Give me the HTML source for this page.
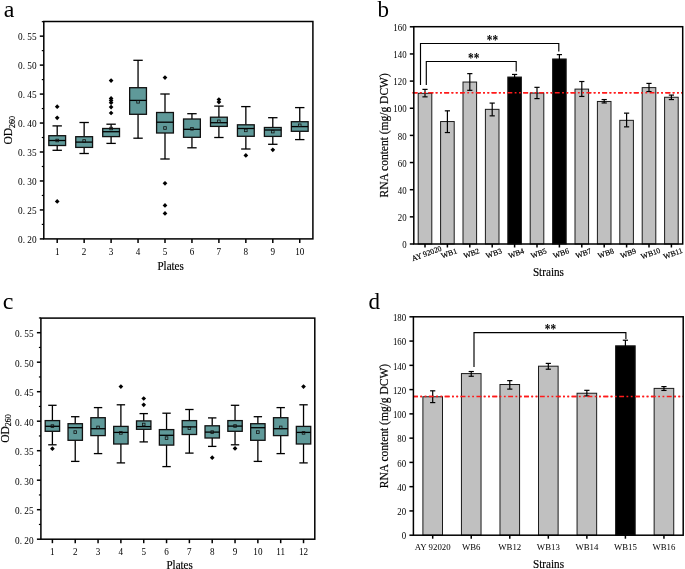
<!DOCTYPE html>
<html><head><meta charset="utf-8"><style>html,body{margin:0;padding:0;background:#fff;}svg{display:block;will-change:transform;}</style></head><body>
<svg width="685" height="569" viewBox="0 0 685 569" font-family='"Liberation Serif", serif' fill="#000">
<style>.b{stroke:#000;stroke-width:0.18px;}</style>
<rect width="685" height="569" fill="#fff"/>
<line x1="57.2" y1="125.9" x2="57.2" y2="135.7" stroke="#000" stroke-width="1.3"/>
<line x1="57.2" y1="145.5" x2="57.2" y2="150.3" stroke="#000" stroke-width="1.3"/>
<line x1="52.5" y1="125.9" x2="61.9" y2="125.9" stroke="#000" stroke-width="1.3"/>
<line x1="52.5" y1="150.3" x2="61.9" y2="150.3" stroke="#000" stroke-width="1.3"/>
<rect x="48.8" y="135.7" width="16.8" height="9.8" fill="#5f9999" stroke="#111" stroke-width="1.3"/>
<line x1="48.8" y1="140.5" x2="65.6" y2="140.5" stroke="#000" stroke-width="1.3"/>
<rect x="55.9" y="139.2" width="2.6" height="2.6" fill="none" stroke="#111" stroke-width="0.8"/>
<path d="M57.2 104.35L59.55 106.7L57.2 109.05L54.85 106.7Z" fill="#000"/>
<path d="M57.2 115.45L59.55 117.8L57.2 120.15L54.85 117.8Z" fill="#000"/>
<path d="M57.2 199.05L59.55 201.4L57.2 203.75L54.85 201.4Z" fill="#000"/>
<line x1="84.15" y1="122.5" x2="84.15" y2="136.7" stroke="#000" stroke-width="1.3"/>
<line x1="84.15" y1="147.4" x2="84.15" y2="153.5" stroke="#000" stroke-width="1.3"/>
<line x1="79.45" y1="122.5" x2="88.85" y2="122.5" stroke="#000" stroke-width="1.3"/>
<line x1="79.45" y1="153.5" x2="88.85" y2="153.5" stroke="#000" stroke-width="1.3"/>
<rect x="75.75" y="136.7" width="16.8" height="10.7" fill="#5f9999" stroke="#111" stroke-width="1.3"/>
<line x1="75.75" y1="142.1" x2="92.55" y2="142.1" stroke="#000" stroke-width="1.3"/>
<rect x="82.85" y="139.7" width="2.6" height="2.6" fill="none" stroke="#111" stroke-width="0.8"/>
<line x1="111.1" y1="124.2" x2="111.1" y2="128.5" stroke="#000" stroke-width="1.3"/>
<line x1="111.1" y1="136.6" x2="111.1" y2="143.4" stroke="#000" stroke-width="1.3"/>
<line x1="106.4" y1="124.2" x2="115.8" y2="124.2" stroke="#000" stroke-width="1.3"/>
<line x1="106.4" y1="143.4" x2="115.8" y2="143.4" stroke="#000" stroke-width="1.3"/>
<rect x="102.7" y="128.5" width="16.8" height="8.1" fill="#5f9999" stroke="#111" stroke-width="1.3"/>
<line x1="102.7" y1="131.7" x2="119.5" y2="131.7" stroke="#000" stroke-width="1.3"/>
<rect x="109.8" y="127.2" width="2.6" height="2.6" fill="none" stroke="#111" stroke-width="0.8"/>
<path d="M111.1 78.25L113.45 80.6L111.1 82.95L108.75 80.6Z" fill="#000"/>
<path d="M111.1 96.05L113.45 98.4L111.1 100.75L108.75 98.4Z" fill="#000"/>
<path d="M111.1 98.15L113.45 100.5L111.1 102.85L108.75 100.5Z" fill="#000"/>
<path d="M111.1 100.35L113.45 102.7L111.1 105.05L108.75 102.7Z" fill="#000"/>
<path d="M111.1 104.75L113.45 107.1L111.1 109.45L108.75 107.1Z" fill="#000"/>
<path d="M111.1 110.65L113.45 113L111.1 115.35L108.75 113Z" fill="#000"/>
<line x1="138.05" y1="60.3" x2="138.05" y2="87.7" stroke="#000" stroke-width="1.3"/>
<line x1="138.05" y1="114.3" x2="138.05" y2="138.2" stroke="#000" stroke-width="1.3"/>
<line x1="133.35" y1="60.3" x2="142.75" y2="60.3" stroke="#000" stroke-width="1.3"/>
<line x1="133.35" y1="138.2" x2="142.75" y2="138.2" stroke="#000" stroke-width="1.3"/>
<rect x="129.65" y="87.7" width="16.8" height="26.6" fill="#5f9999" stroke="#111" stroke-width="1.3"/>
<line x1="129.65" y1="100.4" x2="146.45" y2="100.4" stroke="#000" stroke-width="1.3"/>
<rect x="136.75" y="100.5" width="2.6" height="2.6" fill="none" stroke="#111" stroke-width="0.8"/>
<line x1="165" y1="94" x2="165" y2="112.5" stroke="#000" stroke-width="1.3"/>
<line x1="165" y1="133" x2="165" y2="159" stroke="#000" stroke-width="1.3"/>
<line x1="160.3" y1="94" x2="169.7" y2="94" stroke="#000" stroke-width="1.3"/>
<line x1="160.3" y1="159" x2="169.7" y2="159" stroke="#000" stroke-width="1.3"/>
<rect x="156.6" y="112.5" width="16.8" height="20.5" fill="#5f9999" stroke="#111" stroke-width="1.3"/>
<line x1="156.6" y1="122.2" x2="173.4" y2="122.2" stroke="#000" stroke-width="1.3"/>
<rect x="163.7" y="126.7" width="2.6" height="2.6" fill="none" stroke="#111" stroke-width="0.8"/>
<path d="M165 75.25L167.35 77.6L165 79.95L162.65 77.6Z" fill="#000"/>
<path d="M165 180.95L167.35 183.3L165 185.65L162.65 183.3Z" fill="#000"/>
<path d="M165 203.05L167.35 205.4L165 207.75L162.65 205.4Z" fill="#000"/>
<path d="M165 211.05L167.35 213.4L165 215.75L162.65 213.4Z" fill="#000"/>
<line x1="191.95" y1="113.7" x2="191.95" y2="119" stroke="#000" stroke-width="1.3"/>
<line x1="191.95" y1="137.3" x2="191.95" y2="147.8" stroke="#000" stroke-width="1.3"/>
<line x1="187.25" y1="113.7" x2="196.65" y2="113.7" stroke="#000" stroke-width="1.3"/>
<line x1="187.25" y1="147.8" x2="196.65" y2="147.8" stroke="#000" stroke-width="1.3"/>
<rect x="183.55" y="119" width="16.8" height="18.3" fill="#5f9999" stroke="#111" stroke-width="1.3"/>
<line x1="183.55" y1="129.3" x2="200.35" y2="129.3" stroke="#000" stroke-width="1.3"/>
<rect x="190.65" y="127.5" width="2.6" height="2.6" fill="none" stroke="#111" stroke-width="0.8"/>
<line x1="218.9" y1="106.1" x2="218.9" y2="117.2" stroke="#000" stroke-width="1.3"/>
<line x1="218.9" y1="126.4" x2="218.9" y2="137.5" stroke="#000" stroke-width="1.3"/>
<line x1="214.2" y1="106.1" x2="223.6" y2="106.1" stroke="#000" stroke-width="1.3"/>
<line x1="214.2" y1="137.5" x2="223.6" y2="137.5" stroke="#000" stroke-width="1.3"/>
<rect x="210.5" y="117.2" width="16.8" height="9.2" fill="#5f9999" stroke="#111" stroke-width="1.3"/>
<line x1="210.5" y1="122.7" x2="227.3" y2="122.7" stroke="#000" stroke-width="1.3"/>
<rect x="217.6" y="120" width="2.6" height="2.6" fill="none" stroke="#111" stroke-width="0.8"/>
<path d="M218.9 97.15L221.25 99.5L218.9 101.85L216.55 99.5Z" fill="#000"/>
<path d="M218.9 99.75L221.25 102.1L218.9 104.45L216.55 102.1Z" fill="#000"/>
<line x1="245.85" y1="106.6" x2="245.85" y2="124.8" stroke="#000" stroke-width="1.3"/>
<line x1="245.85" y1="136.3" x2="245.85" y2="149" stroke="#000" stroke-width="1.3"/>
<line x1="241.15" y1="106.6" x2="250.55" y2="106.6" stroke="#000" stroke-width="1.3"/>
<line x1="241.15" y1="149" x2="250.55" y2="149" stroke="#000" stroke-width="1.3"/>
<rect x="237.45" y="124.8" width="16.8" height="11.5" fill="#5f9999" stroke="#111" stroke-width="1.3"/>
<line x1="237.45" y1="128.5" x2="254.25" y2="128.5" stroke="#000" stroke-width="1.3"/>
<rect x="244.55" y="129.1" width="2.6" height="2.6" fill="none" stroke="#111" stroke-width="0.8"/>
<path d="M245.85 153.05L248.2 155.4L245.85 157.75L243.5 155.4Z" fill="#000"/>
<line x1="272.8" y1="117.7" x2="272.8" y2="127.5" stroke="#000" stroke-width="1.3"/>
<line x1="272.8" y1="136.4" x2="272.8" y2="144.3" stroke="#000" stroke-width="1.3"/>
<line x1="268.1" y1="117.7" x2="277.5" y2="117.7" stroke="#000" stroke-width="1.3"/>
<line x1="268.1" y1="144.3" x2="277.5" y2="144.3" stroke="#000" stroke-width="1.3"/>
<rect x="264.4" y="127.5" width="16.8" height="8.9" fill="#5f9999" stroke="#111" stroke-width="1.3"/>
<line x1="264.4" y1="130" x2="281.2" y2="130" stroke="#000" stroke-width="1.3"/>
<rect x="271.5" y="130.3" width="2.6" height="2.6" fill="none" stroke="#111" stroke-width="0.8"/>
<path d="M272.8 147.45L275.15 149.8L272.8 152.15L270.45 149.8Z" fill="#000"/>
<line x1="299.75" y1="107.6" x2="299.75" y2="121.7" stroke="#000" stroke-width="1.3"/>
<line x1="299.75" y1="131.3" x2="299.75" y2="139.6" stroke="#000" stroke-width="1.3"/>
<line x1="295.05" y1="107.6" x2="304.45" y2="107.6" stroke="#000" stroke-width="1.3"/>
<line x1="295.05" y1="139.6" x2="304.45" y2="139.6" stroke="#000" stroke-width="1.3"/>
<rect x="291.35" y="121.7" width="16.8" height="9.6" fill="#5f9999" stroke="#111" stroke-width="1.3"/>
<line x1="291.35" y1="126.6" x2="308.15" y2="126.6" stroke="#000" stroke-width="1.3"/>
<rect x="298.45" y="124" width="2.6" height="2.6" fill="none" stroke="#111" stroke-width="0.8"/>
<rect x="43.8" y="21.5" width="269.1" height="217.4" fill="none" stroke="#000" stroke-width="1.5"/>
<line x1="39.8" y1="238.9" x2="43.8" y2="238.9" stroke="#000" stroke-width="1.5"/>
<text transform="translate(36.6,243.2) scale(0.965,1)" font-size="9.6" text-anchor="end" >0. 20</text>
<line x1="41.8" y1="224.42" x2="43.8" y2="224.42" stroke="#000" stroke-width="1.2"/>
<line x1="39.8" y1="209.94" x2="43.8" y2="209.94" stroke="#000" stroke-width="1.5"/>
<text transform="translate(36.6,214.24) scale(0.965,1)" font-size="9.6" text-anchor="end" >0. 25</text>
<line x1="41.8" y1="195.45" x2="43.8" y2="195.45" stroke="#000" stroke-width="1.2"/>
<line x1="39.8" y1="180.97" x2="43.8" y2="180.97" stroke="#000" stroke-width="1.5"/>
<text transform="translate(36.6,185.27) scale(0.965,1)" font-size="9.6" text-anchor="end" >0. 30</text>
<line x1="41.8" y1="166.49" x2="43.8" y2="166.49" stroke="#000" stroke-width="1.2"/>
<line x1="39.8" y1="152" x2="43.8" y2="152" stroke="#000" stroke-width="1.5"/>
<text transform="translate(36.6,156.31) scale(0.965,1)" font-size="9.6" text-anchor="end" >0. 35</text>
<line x1="41.8" y1="137.52" x2="43.8" y2="137.52" stroke="#000" stroke-width="1.2"/>
<line x1="39.8" y1="123.04" x2="43.8" y2="123.04" stroke="#000" stroke-width="1.5"/>
<text transform="translate(36.6,127.34) scale(0.965,1)" font-size="9.6" text-anchor="end" >0. 40</text>
<line x1="41.8" y1="108.56" x2="43.8" y2="108.56" stroke="#000" stroke-width="1.2"/>
<line x1="39.8" y1="94.08" x2="43.8" y2="94.08" stroke="#000" stroke-width="1.5"/>
<text transform="translate(36.6,98.38) scale(0.965,1)" font-size="9.6" text-anchor="end" >0. 45</text>
<line x1="41.8" y1="79.59" x2="43.8" y2="79.59" stroke="#000" stroke-width="1.2"/>
<line x1="39.8" y1="65.11" x2="43.8" y2="65.11" stroke="#000" stroke-width="1.5"/>
<text transform="translate(36.6,69.41) scale(0.965,1)" font-size="9.6" text-anchor="end" >0. 50</text>
<line x1="41.8" y1="50.63" x2="43.8" y2="50.63" stroke="#000" stroke-width="1.2"/>
<line x1="39.8" y1="36.15" x2="43.8" y2="36.15" stroke="#000" stroke-width="1.5"/>
<text transform="translate(36.6,40.45) scale(0.965,1)" font-size="9.6" text-anchor="end" >0. 55</text>
<line x1="41.8" y1="21.66" x2="43.8" y2="21.66" stroke="#000" stroke-width="1.2"/>
<line x1="57.2" y1="238.9" x2="57.2" y2="242.9" stroke="#000" stroke-width="1.5"/>
<text transform="translate(57.2,254.8) scale(0.95,1)" font-size="9.6" text-anchor="middle" >1</text>
<line x1="84.15" y1="238.9" x2="84.15" y2="242.9" stroke="#000" stroke-width="1.5"/>
<text transform="translate(84.15,254.8) scale(0.95,1)" font-size="9.6" text-anchor="middle" >2</text>
<line x1="111.1" y1="238.9" x2="111.1" y2="242.9" stroke="#000" stroke-width="1.5"/>
<text transform="translate(111.1,254.8) scale(0.95,1)" font-size="9.6" text-anchor="middle" >3</text>
<line x1="138.05" y1="238.9" x2="138.05" y2="242.9" stroke="#000" stroke-width="1.5"/>
<text transform="translate(138.05,254.8) scale(0.95,1)" font-size="9.6" text-anchor="middle" >4</text>
<line x1="165" y1="238.9" x2="165" y2="242.9" stroke="#000" stroke-width="1.5"/>
<text transform="translate(165,254.8) scale(0.95,1)" font-size="9.6" text-anchor="middle" >5</text>
<line x1="191.95" y1="238.9" x2="191.95" y2="242.9" stroke="#000" stroke-width="1.5"/>
<text transform="translate(191.95,254.8) scale(0.95,1)" font-size="9.6" text-anchor="middle" >6</text>
<line x1="218.9" y1="238.9" x2="218.9" y2="242.9" stroke="#000" stroke-width="1.5"/>
<text transform="translate(218.9,254.8) scale(0.95,1)" font-size="9.6" text-anchor="middle" >7</text>
<line x1="245.85" y1="238.9" x2="245.85" y2="242.9" stroke="#000" stroke-width="1.5"/>
<text transform="translate(245.85,254.8) scale(0.95,1)" font-size="9.6" text-anchor="middle" >8</text>
<line x1="272.8" y1="238.9" x2="272.8" y2="242.9" stroke="#000" stroke-width="1.5"/>
<text transform="translate(272.8,254.8) scale(0.95,1)" font-size="9.6" text-anchor="middle" >9</text>
<line x1="299.75" y1="238.9" x2="299.75" y2="242.9" stroke="#000" stroke-width="1.5"/>
<text transform="translate(299.75,254.8) scale(0.95,1)" font-size="9.6" text-anchor="middle" >10</text>
<text transform="translate(170.6,270.2) scale(0.92,1)" font-size="12" text-anchor="middle" class="b">Plates</text>
<text transform="translate(12,130.3) rotate(-90)" font-size="11.5" text-anchor="middle" class="b">OD<tspan font-size="8" dy="2.5">260</tspan></text>
<text x="3.8" y="16.5" font-size="24" text-anchor="start" >a</text>
<line x1="52.4" y1="405.3" x2="52.4" y2="420.6" stroke="#000" stroke-width="1.3"/>
<line x1="52.4" y1="431.3" x2="52.4" y2="444.8" stroke="#000" stroke-width="1.3"/>
<line x1="48.2" y1="405.3" x2="56.6" y2="405.3" stroke="#000" stroke-width="1.3"/>
<line x1="48.2" y1="444.8" x2="56.6" y2="444.8" stroke="#000" stroke-width="1.3"/>
<rect x="45.2" y="420.6" width="14.4" height="10.7" fill="#5f9999" stroke="#111" stroke-width="1.3"/>
<line x1="45.2" y1="426.3" x2="59.6" y2="426.3" stroke="#000" stroke-width="1.3"/>
<rect x="51.1" y="424.8" width="2.6" height="2.6" fill="none" stroke="#111" stroke-width="0.8"/>
<path d="M52.4 446.35L54.75 448.7L52.4 451.05L50.05 448.7Z" fill="#000"/>
<line x1="75.23" y1="416.7" x2="75.23" y2="423.7" stroke="#000" stroke-width="1.3"/>
<line x1="75.23" y1="440.3" x2="75.23" y2="461.4" stroke="#000" stroke-width="1.3"/>
<line x1="71.03" y1="416.7" x2="79.43" y2="416.7" stroke="#000" stroke-width="1.3"/>
<line x1="71.03" y1="461.4" x2="79.43" y2="461.4" stroke="#000" stroke-width="1.3"/>
<rect x="68.03" y="423.7" width="14.4" height="16.6" fill="#5f9999" stroke="#111" stroke-width="1.3"/>
<line x1="68.03" y1="427.7" x2="82.43" y2="427.7" stroke="#000" stroke-width="1.3"/>
<rect x="73.93" y="430.8" width="2.6" height="2.6" fill="none" stroke="#111" stroke-width="0.8"/>
<line x1="98.06" y1="407.6" x2="98.06" y2="417.7" stroke="#000" stroke-width="1.3"/>
<line x1="98.06" y1="435.6" x2="98.06" y2="453.6" stroke="#000" stroke-width="1.3"/>
<line x1="93.86" y1="407.6" x2="102.26" y2="407.6" stroke="#000" stroke-width="1.3"/>
<line x1="93.86" y1="453.6" x2="102.26" y2="453.6" stroke="#000" stroke-width="1.3"/>
<rect x="90.86" y="417.7" width="14.4" height="17.9" fill="#5f9999" stroke="#111" stroke-width="1.3"/>
<line x1="90.86" y1="428.7" x2="105.26" y2="428.7" stroke="#000" stroke-width="1.3"/>
<rect x="96.76" y="426.1" width="2.6" height="2.6" fill="none" stroke="#111" stroke-width="0.8"/>
<line x1="120.89" y1="404.8" x2="120.89" y2="426.4" stroke="#000" stroke-width="1.3"/>
<line x1="120.89" y1="444" x2="120.89" y2="462.9" stroke="#000" stroke-width="1.3"/>
<line x1="116.69" y1="404.8" x2="125.09" y2="404.8" stroke="#000" stroke-width="1.3"/>
<line x1="116.69" y1="462.9" x2="125.09" y2="462.9" stroke="#000" stroke-width="1.3"/>
<rect x="113.69" y="426.4" width="14.4" height="17.6" fill="#5f9999" stroke="#111" stroke-width="1.3"/>
<line x1="113.69" y1="432.4" x2="128.09" y2="432.4" stroke="#000" stroke-width="1.3"/>
<rect x="119.59" y="431.6" width="2.6" height="2.6" fill="none" stroke="#111" stroke-width="0.8"/>
<path d="M120.89 384.25L123.24 386.6L120.89 388.95L118.54 386.6Z" fill="#000"/>
<line x1="143.72" y1="413.6" x2="143.72" y2="420.9" stroke="#000" stroke-width="1.3"/>
<line x1="143.72" y1="429.3" x2="143.72" y2="441.9" stroke="#000" stroke-width="1.3"/>
<line x1="139.52" y1="413.6" x2="147.92" y2="413.6" stroke="#000" stroke-width="1.3"/>
<line x1="139.52" y1="441.9" x2="147.92" y2="441.9" stroke="#000" stroke-width="1.3"/>
<rect x="136.52" y="420.9" width="14.4" height="8.4" fill="#5f9999" stroke="#111" stroke-width="1.3"/>
<line x1="136.52" y1="426.6" x2="150.92" y2="426.6" stroke="#000" stroke-width="1.3"/>
<rect x="142.42" y="423.2" width="2.6" height="2.6" fill="none" stroke="#111" stroke-width="0.8"/>
<path d="M143.72 396.15L146.07 398.5L143.72 400.85L141.37 398.5Z" fill="#000"/>
<path d="M143.72 402.45L146.07 404.8L143.72 407.15L141.37 404.8Z" fill="#000"/>
<line x1="166.55" y1="413.2" x2="166.55" y2="429.6" stroke="#000" stroke-width="1.3"/>
<line x1="166.55" y1="445.1" x2="166.55" y2="466.6" stroke="#000" stroke-width="1.3"/>
<line x1="162.35" y1="413.2" x2="170.75" y2="413.2" stroke="#000" stroke-width="1.3"/>
<line x1="162.35" y1="466.6" x2="170.75" y2="466.6" stroke="#000" stroke-width="1.3"/>
<rect x="159.35" y="429.6" width="14.4" height="15.5" fill="#5f9999" stroke="#111" stroke-width="1.3"/>
<line x1="159.35" y1="435.3" x2="173.75" y2="435.3" stroke="#000" stroke-width="1.3"/>
<rect x="165.25" y="436.8" width="2.6" height="2.6" fill="none" stroke="#111" stroke-width="0.8"/>
<line x1="189.38" y1="409.5" x2="189.38" y2="420.6" stroke="#000" stroke-width="1.3"/>
<line x1="189.38" y1="434.5" x2="189.38" y2="453.1" stroke="#000" stroke-width="1.3"/>
<line x1="185.18" y1="409.5" x2="193.58" y2="409.5" stroke="#000" stroke-width="1.3"/>
<line x1="185.18" y1="453.1" x2="193.58" y2="453.1" stroke="#000" stroke-width="1.3"/>
<rect x="182.18" y="420.6" width="14.4" height="13.9" fill="#5f9999" stroke="#111" stroke-width="1.3"/>
<line x1="182.18" y1="426.9" x2="196.58" y2="426.9" stroke="#000" stroke-width="1.3"/>
<rect x="188.08" y="426.9" width="2.6" height="2.6" fill="none" stroke="#111" stroke-width="0.8"/>
<line x1="212.21" y1="417.9" x2="212.21" y2="425.8" stroke="#000" stroke-width="1.3"/>
<line x1="212.21" y1="438" x2="212.21" y2="446.4" stroke="#000" stroke-width="1.3"/>
<line x1="208.01" y1="417.9" x2="216.41" y2="417.9" stroke="#000" stroke-width="1.3"/>
<line x1="208.01" y1="446.4" x2="216.41" y2="446.4" stroke="#000" stroke-width="1.3"/>
<rect x="205.01" y="425.8" width="14.4" height="12.2" fill="#5f9999" stroke="#111" stroke-width="1.3"/>
<line x1="205.01" y1="432.1" x2="219.41" y2="432.1" stroke="#000" stroke-width="1.3"/>
<rect x="210.91" y="430.8" width="2.6" height="2.6" fill="none" stroke="#111" stroke-width="0.8"/>
<path d="M212.21 455.35L214.56 457.7L212.21 460.05L209.86 457.7Z" fill="#000"/>
<line x1="235.04" y1="405.3" x2="235.04" y2="420.6" stroke="#000" stroke-width="1.3"/>
<line x1="235.04" y1="431.3" x2="235.04" y2="444.8" stroke="#000" stroke-width="1.3"/>
<line x1="230.84" y1="405.3" x2="239.24" y2="405.3" stroke="#000" stroke-width="1.3"/>
<line x1="230.84" y1="444.8" x2="239.24" y2="444.8" stroke="#000" stroke-width="1.3"/>
<rect x="227.84" y="420.6" width="14.4" height="10.7" fill="#5f9999" stroke="#111" stroke-width="1.3"/>
<line x1="227.84" y1="426.1" x2="242.24" y2="426.1" stroke="#000" stroke-width="1.3"/>
<rect x="233.74" y="424.7" width="2.6" height="2.6" fill="none" stroke="#111" stroke-width="0.8"/>
<path d="M235.04 446.05L237.39 448.4L235.04 450.75L232.69 448.4Z" fill="#000"/>
<line x1="257.87" y1="416.7" x2="257.87" y2="423.7" stroke="#000" stroke-width="1.3"/>
<line x1="257.87" y1="440.3" x2="257.87" y2="461.4" stroke="#000" stroke-width="1.3"/>
<line x1="253.67" y1="416.7" x2="262.07" y2="416.7" stroke="#000" stroke-width="1.3"/>
<line x1="253.67" y1="461.4" x2="262.07" y2="461.4" stroke="#000" stroke-width="1.3"/>
<rect x="250.67" y="423.7" width="14.4" height="16.6" fill="#5f9999" stroke="#111" stroke-width="1.3"/>
<line x1="250.67" y1="427.7" x2="265.07" y2="427.7" stroke="#000" stroke-width="1.3"/>
<rect x="256.57" y="430.8" width="2.6" height="2.6" fill="none" stroke="#111" stroke-width="0.8"/>
<line x1="280.7" y1="407.6" x2="280.7" y2="417.7" stroke="#000" stroke-width="1.3"/>
<line x1="280.7" y1="435.6" x2="280.7" y2="453.6" stroke="#000" stroke-width="1.3"/>
<line x1="276.5" y1="407.6" x2="284.9" y2="407.6" stroke="#000" stroke-width="1.3"/>
<line x1="276.5" y1="453.6" x2="284.9" y2="453.6" stroke="#000" stroke-width="1.3"/>
<rect x="273.5" y="417.7" width="14.4" height="17.9" fill="#5f9999" stroke="#111" stroke-width="1.3"/>
<line x1="273.5" y1="428.7" x2="287.9" y2="428.7" stroke="#000" stroke-width="1.3"/>
<rect x="279.4" y="426.1" width="2.6" height="2.6" fill="none" stroke="#111" stroke-width="0.8"/>
<line x1="303.53" y1="404.8" x2="303.53" y2="426.4" stroke="#000" stroke-width="1.3"/>
<line x1="303.53" y1="444" x2="303.53" y2="462.9" stroke="#000" stroke-width="1.3"/>
<line x1="299.33" y1="404.8" x2="307.73" y2="404.8" stroke="#000" stroke-width="1.3"/>
<line x1="299.33" y1="462.9" x2="307.73" y2="462.9" stroke="#000" stroke-width="1.3"/>
<rect x="296.33" y="426.4" width="14.4" height="17.6" fill="#5f9999" stroke="#111" stroke-width="1.3"/>
<line x1="296.33" y1="432.4" x2="310.73" y2="432.4" stroke="#000" stroke-width="1.3"/>
<rect x="302.23" y="431.6" width="2.6" height="2.6" fill="none" stroke="#111" stroke-width="0.8"/>
<path d="M303.53 384.25L305.88 386.6L303.53 388.95L301.18 386.6Z" fill="#000"/>
<rect x="40.9" y="318.1" width="273.9" height="221.1" fill="none" stroke="#000" stroke-width="1.5"/>
<line x1="36.9" y1="539.2" x2="40.9" y2="539.2" stroke="#000" stroke-width="1.5"/>
<text transform="translate(33.6,543.5) scale(0.965,1)" font-size="9.6" text-anchor="end" >0. 20</text>
<line x1="38.9" y1="524.45" x2="40.9" y2="524.45" stroke="#000" stroke-width="1.2"/>
<line x1="36.9" y1="509.7" x2="40.9" y2="509.7" stroke="#000" stroke-width="1.5"/>
<text transform="translate(33.6,514) scale(0.965,1)" font-size="9.6" text-anchor="end" >0. 25</text>
<line x1="38.9" y1="494.95" x2="40.9" y2="494.95" stroke="#000" stroke-width="1.2"/>
<line x1="36.9" y1="480.2" x2="40.9" y2="480.2" stroke="#000" stroke-width="1.5"/>
<text transform="translate(33.6,484.5) scale(0.965,1)" font-size="9.6" text-anchor="end" >0. 30</text>
<line x1="38.9" y1="465.45" x2="40.9" y2="465.45" stroke="#000" stroke-width="1.2"/>
<line x1="36.9" y1="450.7" x2="40.9" y2="450.7" stroke="#000" stroke-width="1.5"/>
<text transform="translate(33.6,455) scale(0.965,1)" font-size="9.6" text-anchor="end" >0. 35</text>
<line x1="38.9" y1="435.95" x2="40.9" y2="435.95" stroke="#000" stroke-width="1.2"/>
<line x1="36.9" y1="421.2" x2="40.9" y2="421.2" stroke="#000" stroke-width="1.5"/>
<text transform="translate(33.6,425.5) scale(0.965,1)" font-size="9.6" text-anchor="end" >0. 40</text>
<line x1="38.9" y1="406.45" x2="40.9" y2="406.45" stroke="#000" stroke-width="1.2"/>
<line x1="36.9" y1="391.7" x2="40.9" y2="391.7" stroke="#000" stroke-width="1.5"/>
<text transform="translate(33.6,396) scale(0.965,1)" font-size="9.6" text-anchor="end" >0. 45</text>
<line x1="38.9" y1="376.95" x2="40.9" y2="376.95" stroke="#000" stroke-width="1.2"/>
<line x1="36.9" y1="362.2" x2="40.9" y2="362.2" stroke="#000" stroke-width="1.5"/>
<text transform="translate(33.6,366.5) scale(0.965,1)" font-size="9.6" text-anchor="end" >0. 50</text>
<line x1="38.9" y1="347.45" x2="40.9" y2="347.45" stroke="#000" stroke-width="1.2"/>
<line x1="36.9" y1="332.7" x2="40.9" y2="332.7" stroke="#000" stroke-width="1.5"/>
<text transform="translate(33.6,337) scale(0.965,1)" font-size="9.6" text-anchor="end" >0. 55</text>
<line x1="38.9" y1="317.95" x2="40.9" y2="317.95" stroke="#000" stroke-width="1.2"/>
<line x1="52.4" y1="539.2" x2="52.4" y2="543.2" stroke="#000" stroke-width="1.5"/>
<text transform="translate(52.4,555) scale(0.95,1)" font-size="9.6" text-anchor="middle" >1</text>
<line x1="75.23" y1="539.2" x2="75.23" y2="543.2" stroke="#000" stroke-width="1.5"/>
<text transform="translate(75.23,555) scale(0.95,1)" font-size="9.6" text-anchor="middle" >2</text>
<line x1="98.06" y1="539.2" x2="98.06" y2="543.2" stroke="#000" stroke-width="1.5"/>
<text transform="translate(98.06,555) scale(0.95,1)" font-size="9.6" text-anchor="middle" >3</text>
<line x1="120.89" y1="539.2" x2="120.89" y2="543.2" stroke="#000" stroke-width="1.5"/>
<text transform="translate(120.89,555) scale(0.95,1)" font-size="9.6" text-anchor="middle" >4</text>
<line x1="143.72" y1="539.2" x2="143.72" y2="543.2" stroke="#000" stroke-width="1.5"/>
<text transform="translate(143.72,555) scale(0.95,1)" font-size="9.6" text-anchor="middle" >5</text>
<line x1="166.55" y1="539.2" x2="166.55" y2="543.2" stroke="#000" stroke-width="1.5"/>
<text transform="translate(166.55,555) scale(0.95,1)" font-size="9.6" text-anchor="middle" >6</text>
<line x1="189.38" y1="539.2" x2="189.38" y2="543.2" stroke="#000" stroke-width="1.5"/>
<text transform="translate(189.38,555) scale(0.95,1)" font-size="9.6" text-anchor="middle" >7</text>
<line x1="212.21" y1="539.2" x2="212.21" y2="543.2" stroke="#000" stroke-width="1.5"/>
<text transform="translate(212.21,555) scale(0.95,1)" font-size="9.6" text-anchor="middle" >8</text>
<line x1="235.04" y1="539.2" x2="235.04" y2="543.2" stroke="#000" stroke-width="1.5"/>
<text transform="translate(235.04,555) scale(0.95,1)" font-size="9.6" text-anchor="middle" >9</text>
<line x1="257.87" y1="539.2" x2="257.87" y2="543.2" stroke="#000" stroke-width="1.5"/>
<text transform="translate(257.87,555) scale(0.95,1)" font-size="9.6" text-anchor="middle" >10</text>
<line x1="280.7" y1="539.2" x2="280.7" y2="543.2" stroke="#000" stroke-width="1.5"/>
<text transform="translate(280.7,555) scale(0.95,1)" font-size="9.6" text-anchor="middle" >11</text>
<line x1="303.53" y1="539.2" x2="303.53" y2="543.2" stroke="#000" stroke-width="1.5"/>
<text transform="translate(303.53,555) scale(0.95,1)" font-size="9.6" text-anchor="middle" >12</text>
<text transform="translate(179.6,569.3) scale(0.92,1)" font-size="12" text-anchor="middle" class="b">Plates</text>
<text transform="translate(8.5,428.5) rotate(-90)" font-size="11.5" text-anchor="middle" class="b">OD<tspan font-size="8" dy="2.5">260</tspan></text>
<text x="2.8" y="308.6" font-size="24" text-anchor="start" >c</text>
<line x1="412.6" y1="92.8" x2="682.7" y2="92.8" stroke="#ff1a1a" stroke-width="1.5" stroke-dasharray="4.9 2.4 1.8 2.5 1.8 2.4"/>
<rect x="418.2" y="93.32" width="13.6" height="150.68" fill="#c0c0c0" stroke="#1a1a1a" stroke-width="1"/>
<line x1="425" y1="89.38" x2="425" y2="96.85" stroke="#000" stroke-width="1.2"/>
<line x1="422.4" y1="89.38" x2="427.6" y2="89.38" stroke="#000" stroke-width="1.2"/>
<line x1="422.4" y1="96.85" x2="427.6" y2="96.85" stroke="#000" stroke-width="1.2"/>
<rect x="440.6" y="121.55" width="13.6" height="122.45" fill="#c0c0c0" stroke="#1a1a1a" stroke-width="1"/>
<line x1="447.4" y1="110.83" x2="447.4" y2="132.55" stroke="#000" stroke-width="1.2"/>
<line x1="444.8" y1="110.83" x2="450" y2="110.83" stroke="#000" stroke-width="1.2"/>
<line x1="444.8" y1="132.55" x2="450" y2="132.55" stroke="#000" stroke-width="1.2"/>
<rect x="463" y="82.05" width="13.6" height="161.95" fill="#c0c0c0" stroke="#1a1a1a" stroke-width="1"/>
<line x1="469.8" y1="73.63" x2="469.8" y2="90.33" stroke="#000" stroke-width="1.2"/>
<line x1="467.2" y1="73.63" x2="472.4" y2="73.63" stroke="#000" stroke-width="1.2"/>
<line x1="467.2" y1="90.33" x2="472.4" y2="90.33" stroke="#000" stroke-width="1.2"/>
<rect x="485.4" y="109.34" width="13.6" height="134.66" fill="#c0c0c0" stroke="#1a1a1a" stroke-width="1"/>
<line x1="492.2" y1="103.09" x2="492.2" y2="115.85" stroke="#000" stroke-width="1.2"/>
<line x1="489.6" y1="103.09" x2="494.8" y2="103.09" stroke="#000" stroke-width="1.2"/>
<line x1="489.6" y1="115.85" x2="494.8" y2="115.85" stroke="#000" stroke-width="1.2"/>
<rect x="507.8" y="77.03" width="13.6" height="166.97" fill="#000" stroke="#1a1a1a" stroke-width="1"/>
<line x1="514.6" y1="74.45" x2="514.6" y2="79.06" stroke="#000" stroke-width="1.2"/>
<line x1="512" y1="74.45" x2="517.2" y2="74.45" stroke="#000" stroke-width="1.2"/>
<line x1="512" y1="79.06" x2="517.2" y2="79.06" stroke="#000" stroke-width="1.2"/>
<rect x="530.2" y="93.05" width="13.6" height="150.95" fill="#c0c0c0" stroke="#1a1a1a" stroke-width="1"/>
<line x1="537" y1="87.34" x2="537" y2="98.61" stroke="#000" stroke-width="1.2"/>
<line x1="534.4" y1="87.34" x2="539.6" y2="87.34" stroke="#000" stroke-width="1.2"/>
<line x1="534.4" y1="98.61" x2="539.6" y2="98.61" stroke="#000" stroke-width="1.2"/>
<rect x="552.6" y="58.97" width="13.6" height="185.03" fill="#000" stroke="#1a1a1a" stroke-width="1"/>
<line x1="559.4" y1="54.63" x2="559.4" y2="63.45" stroke="#000" stroke-width="1.2"/>
<line x1="556.8" y1="54.63" x2="562" y2="54.63" stroke="#000" stroke-width="1.2"/>
<line x1="556.8" y1="63.45" x2="562" y2="63.45" stroke="#000" stroke-width="1.2"/>
<rect x="575" y="89.11" width="13.6" height="154.89" fill="#c0c0c0" stroke="#1a1a1a" stroke-width="1"/>
<line x1="581.8" y1="81.51" x2="581.8" y2="96.44" stroke="#000" stroke-width="1.2"/>
<line x1="579.2" y1="81.51" x2="584.4" y2="81.51" stroke="#000" stroke-width="1.2"/>
<line x1="579.2" y1="96.44" x2="584.4" y2="96.44" stroke="#000" stroke-width="1.2"/>
<rect x="597.4" y="101.46" width="13.6" height="142.54" fill="#c0c0c0" stroke="#1a1a1a" stroke-width="1"/>
<line x1="604.2" y1="99.56" x2="604.2" y2="102.96" stroke="#000" stroke-width="1.2"/>
<line x1="601.6" y1="99.56" x2="606.8" y2="99.56" stroke="#000" stroke-width="1.2"/>
<line x1="601.6" y1="102.96" x2="606.8" y2="102.96" stroke="#000" stroke-width="1.2"/>
<rect x="619.8" y="120.33" width="13.6" height="123.67" fill="#c0c0c0" stroke="#1a1a1a" stroke-width="1"/>
<line x1="626.6" y1="113.14" x2="626.6" y2="126.85" stroke="#000" stroke-width="1.2"/>
<line x1="624" y1="113.14" x2="629.2" y2="113.14" stroke="#000" stroke-width="1.2"/>
<line x1="624" y1="126.85" x2="629.2" y2="126.85" stroke="#000" stroke-width="1.2"/>
<rect x="642.2" y="87.62" width="13.6" height="156.38" fill="#c0c0c0" stroke="#1a1a1a" stroke-width="1"/>
<line x1="649" y1="83.41" x2="649" y2="91.55" stroke="#000" stroke-width="1.2"/>
<line x1="646.4" y1="83.41" x2="651.6" y2="83.41" stroke="#000" stroke-width="1.2"/>
<line x1="646.4" y1="91.55" x2="651.6" y2="91.55" stroke="#000" stroke-width="1.2"/>
<rect x="664.6" y="97.25" width="13.6" height="146.75" fill="#c0c0c0" stroke="#1a1a1a" stroke-width="1"/>
<line x1="671.4" y1="95.08" x2="671.4" y2="99.56" stroke="#000" stroke-width="1.2"/>
<line x1="668.8" y1="95.08" x2="674" y2="95.08" stroke="#000" stroke-width="1.2"/>
<line x1="668.8" y1="99.56" x2="674" y2="99.56" stroke="#000" stroke-width="1.2"/>
<line x1="412.6" y1="92.8" x2="682.7" y2="92.8" stroke="#ff1a1a" stroke-width="1.5" stroke-dasharray="4.9 2.4 1.8 2.5 1.8 2.4"/>
<path d="M420.5 85V43.5H558.8V51.6" fill="none" stroke="#000" stroke-width="1.15"/>
<text transform="translate(492.5,44.8) scale(0.9,1.2)" font-size="12.6" text-anchor="middle" font-weight="bold">**</text>
<path d="M426.3 85V61.5H516.2V71.4" fill="none" stroke="#000" stroke-width="1.15"/>
<text transform="translate(473.7,62.6) scale(0.9,1.2)" font-size="12.6" text-anchor="middle" font-weight="bold">**</text>
<rect x="413.8" y="26.7" width="268.9" height="217.3" fill="none" stroke="#000" stroke-width="1.5"/>
<line x1="409.8" y1="244" x2="413.8" y2="244" stroke="#000" stroke-width="1.5"/>
<text transform="translate(406.6,248.2) scale(0.92,1)" font-size="9.6" text-anchor="end" >0</text>
<line x1="409.8" y1="216.85" x2="413.8" y2="216.85" stroke="#000" stroke-width="1.5"/>
<text transform="translate(406.6,221.05) scale(0.92,1)" font-size="9.6" text-anchor="end" >20</text>
<line x1="409.8" y1="189.7" x2="413.8" y2="189.7" stroke="#000" stroke-width="1.5"/>
<text transform="translate(406.6,193.9) scale(0.92,1)" font-size="9.6" text-anchor="end" >40</text>
<line x1="409.8" y1="162.55" x2="413.8" y2="162.55" stroke="#000" stroke-width="1.5"/>
<text transform="translate(406.6,166.75) scale(0.92,1)" font-size="9.6" text-anchor="end" >60</text>
<line x1="409.8" y1="135.4" x2="413.8" y2="135.4" stroke="#000" stroke-width="1.5"/>
<text transform="translate(406.6,139.6) scale(0.92,1)" font-size="9.6" text-anchor="end" >80</text>
<line x1="409.8" y1="108.25" x2="413.8" y2="108.25" stroke="#000" stroke-width="1.5"/>
<text transform="translate(406.6,112.45) scale(0.92,1)" font-size="9.6" text-anchor="end" >100</text>
<line x1="409.8" y1="81.1" x2="413.8" y2="81.1" stroke="#000" stroke-width="1.5"/>
<text transform="translate(406.6,85.3) scale(0.92,1)" font-size="9.6" text-anchor="end" >120</text>
<line x1="409.8" y1="53.95" x2="413.8" y2="53.95" stroke="#000" stroke-width="1.5"/>
<text transform="translate(406.6,58.15) scale(0.92,1)" font-size="9.6" text-anchor="end" >140</text>
<line x1="409.8" y1="26.8" x2="413.8" y2="26.8" stroke="#000" stroke-width="1.5"/>
<text transform="translate(406.6,31) scale(0.92,1)" font-size="9.6" text-anchor="end" >160</text>
<line x1="425" y1="244" x2="425" y2="247.5" stroke="#000" stroke-width="1.5"/>
<text transform="translate(427.5,255.8) rotate(-20)" font-size="7.7" text-anchor="middle" class="b">AY 92020</text>
<line x1="447.4" y1="244" x2="447.4" y2="247.5" stroke="#000" stroke-width="1.5"/>
<text transform="translate(449.9,255.8) rotate(-20)" font-size="7.7" text-anchor="middle" class="b">WB1</text>
<line x1="469.8" y1="244" x2="469.8" y2="247.5" stroke="#000" stroke-width="1.5"/>
<text transform="translate(472.3,255.8) rotate(-20)" font-size="7.7" text-anchor="middle" class="b">WB2</text>
<line x1="492.2" y1="244" x2="492.2" y2="247.5" stroke="#000" stroke-width="1.5"/>
<text transform="translate(494.7,255.8) rotate(-20)" font-size="7.7" text-anchor="middle" class="b">WB3</text>
<line x1="514.6" y1="244" x2="514.6" y2="247.5" stroke="#000" stroke-width="1.5"/>
<text transform="translate(517.1,255.8) rotate(-20)" font-size="7.7" text-anchor="middle" class="b">WB4</text>
<line x1="537" y1="244" x2="537" y2="247.5" stroke="#000" stroke-width="1.5"/>
<text transform="translate(539.5,255.8) rotate(-20)" font-size="7.7" text-anchor="middle" class="b">WB5</text>
<line x1="559.4" y1="244" x2="559.4" y2="247.5" stroke="#000" stroke-width="1.5"/>
<text transform="translate(561.9,255.8) rotate(-20)" font-size="7.7" text-anchor="middle" class="b">WB6</text>
<line x1="581.8" y1="244" x2="581.8" y2="247.5" stroke="#000" stroke-width="1.5"/>
<text transform="translate(584.3,255.8) rotate(-20)" font-size="7.7" text-anchor="middle" class="b">WB7</text>
<line x1="604.2" y1="244" x2="604.2" y2="247.5" stroke="#000" stroke-width="1.5"/>
<text transform="translate(606.7,255.8) rotate(-20)" font-size="7.7" text-anchor="middle" class="b">WB8</text>
<line x1="626.6" y1="244" x2="626.6" y2="247.5" stroke="#000" stroke-width="1.5"/>
<text transform="translate(629.1,255.8) rotate(-20)" font-size="7.7" text-anchor="middle" class="b">WB9</text>
<line x1="649" y1="244" x2="649" y2="247.5" stroke="#000" stroke-width="1.5"/>
<text transform="translate(651.5,255.8) rotate(-20)" font-size="7.7" text-anchor="middle" class="b">WB10</text>
<line x1="671.4" y1="244" x2="671.4" y2="247.5" stroke="#000" stroke-width="1.5"/>
<text transform="translate(673.9,255.8) rotate(-20)" font-size="7.7" text-anchor="middle" class="b">WB11</text>
<text transform="translate(548.4,275.6) scale(0.93,1)" font-size="12" text-anchor="middle" class="b">Strains</text>
<text transform="translate(388.3,135.35) rotate(-90)" font-size="11.5" text-anchor="middle" class="b">RNA content (mg/g DCW)</text>
<text x="377.6" y="16.9" font-size="23" text-anchor="start" >b</text>
<line x1="413" y1="396.6" x2="683.2" y2="396.6" stroke="#ff1a1a" stroke-width="1.5" stroke-dasharray="4.9 2.4 1.8 2.5 1.8 2.46"/>
<rect x="422.9" y="396.76" width="19.6" height="138.44" fill="#c0c0c0" stroke="#1a1a1a" stroke-width="1"/>
<line x1="432.7" y1="390.82" x2="432.7" y2="402.59" stroke="#000" stroke-width="1.2"/>
<line x1="430.1" y1="390.82" x2="435.3" y2="390.82" stroke="#000" stroke-width="1.2"/>
<line x1="430.1" y1="402.59" x2="435.3" y2="402.59" stroke="#000" stroke-width="1.2"/>
<rect x="461.44" y="373.59" width="19.6" height="161.61" fill="#c0c0c0" stroke="#1a1a1a" stroke-width="1"/>
<line x1="471.24" y1="371.53" x2="471.24" y2="376.26" stroke="#000" stroke-width="1.2"/>
<line x1="468.64" y1="371.53" x2="473.84" y2="371.53" stroke="#000" stroke-width="1.2"/>
<line x1="468.64" y1="376.26" x2="473.84" y2="376.26" stroke="#000" stroke-width="1.2"/>
<rect x="499.98" y="384.51" width="19.6" height="150.69" fill="#c0c0c0" stroke="#1a1a1a" stroke-width="1"/>
<line x1="509.78" y1="380.63" x2="509.78" y2="389.12" stroke="#000" stroke-width="1.2"/>
<line x1="507.18" y1="380.63" x2="512.38" y2="380.63" stroke="#000" stroke-width="1.2"/>
<line x1="507.18" y1="389.12" x2="512.38" y2="389.12" stroke="#000" stroke-width="1.2"/>
<rect x="538.52" y="366.19" width="19.6" height="169.01" fill="#c0c0c0" stroke="#1a1a1a" stroke-width="1"/>
<line x1="548.32" y1="363.4" x2="548.32" y2="369.22" stroke="#000" stroke-width="1.2"/>
<line x1="545.72" y1="363.4" x2="550.92" y2="363.4" stroke="#000" stroke-width="1.2"/>
<line x1="545.72" y1="369.22" x2="550.92" y2="369.22" stroke="#000" stroke-width="1.2"/>
<rect x="577.06" y="393.24" width="19.6" height="141.96" fill="#c0c0c0" stroke="#1a1a1a" stroke-width="1"/>
<line x1="586.86" y1="390.33" x2="586.86" y2="395.91" stroke="#000" stroke-width="1.2"/>
<line x1="584.26" y1="390.33" x2="589.46" y2="390.33" stroke="#000" stroke-width="1.2"/>
<line x1="584.26" y1="395.91" x2="589.46" y2="395.91" stroke="#000" stroke-width="1.2"/>
<rect x="615.6" y="345.8" width="19.6" height="189.4" fill="#000" stroke="#1a1a1a" stroke-width="1"/>
<line x1="625.4" y1="340.22" x2="625.4" y2="350.78" stroke="#000" stroke-width="1.2"/>
<line x1="622.8" y1="340.22" x2="628" y2="340.22" stroke="#000" stroke-width="1.2"/>
<line x1="622.8" y1="350.78" x2="628" y2="350.78" stroke="#000" stroke-width="1.2"/>
<rect x="654.14" y="388.39" width="19.6" height="146.81" fill="#c0c0c0" stroke="#1a1a1a" stroke-width="1"/>
<line x1="663.94" y1="386.57" x2="663.94" y2="390.45" stroke="#000" stroke-width="1.2"/>
<line x1="661.34" y1="386.57" x2="666.54" y2="386.57" stroke="#000" stroke-width="1.2"/>
<line x1="661.34" y1="390.45" x2="666.54" y2="390.45" stroke="#000" stroke-width="1.2"/>
<line x1="413" y1="396.6" x2="683.2" y2="396.6" stroke="#ff1a1a" stroke-width="1.5" stroke-dasharray="4.9 2.4 1.8 2.5 1.8 2.46"/>
<path d="M474 367.1V332.6H625.9V339" fill="none" stroke="#000" stroke-width="1.15"/>
<text transform="translate(550.5,334.3) scale(0.9,1.2)" font-size="12.6" text-anchor="middle" font-weight="bold">**</text>
<rect x="413.4" y="316.8" width="269.8" height="218.4" fill="none" stroke="#000" stroke-width="1.5"/>
<line x1="409.4" y1="535.2" x2="413.4" y2="535.2" stroke="#000" stroke-width="1.5"/>
<text transform="translate(406.2,539.4) scale(0.92,1)" font-size="9.6" text-anchor="end" >0</text>
<line x1="409.4" y1="510.93" x2="413.4" y2="510.93" stroke="#000" stroke-width="1.5"/>
<text transform="translate(406.2,515.13) scale(0.92,1)" font-size="9.6" text-anchor="end" >20</text>
<line x1="409.4" y1="486.67" x2="413.4" y2="486.67" stroke="#000" stroke-width="1.5"/>
<text transform="translate(406.2,490.87) scale(0.92,1)" font-size="9.6" text-anchor="end" >40</text>
<line x1="409.4" y1="462.4" x2="413.4" y2="462.4" stroke="#000" stroke-width="1.5"/>
<text transform="translate(406.2,466.6) scale(0.92,1)" font-size="9.6" text-anchor="end" >60</text>
<line x1="409.4" y1="438.14" x2="413.4" y2="438.14" stroke="#000" stroke-width="1.5"/>
<text transform="translate(406.2,442.34) scale(0.92,1)" font-size="9.6" text-anchor="end" >80</text>
<line x1="409.4" y1="413.87" x2="413.4" y2="413.87" stroke="#000" stroke-width="1.5"/>
<text transform="translate(406.2,418.07) scale(0.92,1)" font-size="9.6" text-anchor="end" >100</text>
<line x1="409.4" y1="389.6" x2="413.4" y2="389.6" stroke="#000" stroke-width="1.5"/>
<text transform="translate(406.2,393.8) scale(0.92,1)" font-size="9.6" text-anchor="end" >120</text>
<line x1="409.4" y1="365.34" x2="413.4" y2="365.34" stroke="#000" stroke-width="1.5"/>
<text transform="translate(406.2,369.54) scale(0.92,1)" font-size="9.6" text-anchor="end" >140</text>
<line x1="409.4" y1="341.07" x2="413.4" y2="341.07" stroke="#000" stroke-width="1.5"/>
<text transform="translate(406.2,345.27) scale(0.92,1)" font-size="9.6" text-anchor="end" >160</text>
<line x1="409.4" y1="316.81" x2="413.4" y2="316.81" stroke="#000" stroke-width="1.5"/>
<text transform="translate(406.2,321.01) scale(0.92,1)" font-size="9.6" text-anchor="end" >180</text>
<line x1="432.7" y1="535.2" x2="432.7" y2="538.7" stroke="#000" stroke-width="1.5"/>
<text x="432.7" y="549.7" font-size="8.8" text-anchor="middle" >AY 92020</text>
<line x1="471.24" y1="535.2" x2="471.24" y2="538.7" stroke="#000" stroke-width="1.5"/>
<text x="471.24" y="549.7" font-size="8.8" text-anchor="middle" >WB6</text>
<line x1="509.78" y1="535.2" x2="509.78" y2="538.7" stroke="#000" stroke-width="1.5"/>
<text x="509.78" y="549.7" font-size="8.8" text-anchor="middle" >WB12</text>
<line x1="548.32" y1="535.2" x2="548.32" y2="538.7" stroke="#000" stroke-width="1.5"/>
<text x="548.32" y="549.7" font-size="8.8" text-anchor="middle" >WB13</text>
<line x1="586.86" y1="535.2" x2="586.86" y2="538.7" stroke="#000" stroke-width="1.5"/>
<text x="586.86" y="549.7" font-size="8.8" text-anchor="middle" >WB14</text>
<line x1="625.4" y1="535.2" x2="625.4" y2="538.7" stroke="#000" stroke-width="1.5"/>
<text x="625.4" y="549.7" font-size="8.8" text-anchor="middle" >WB15</text>
<line x1="663.94" y1="535.2" x2="663.94" y2="538.7" stroke="#000" stroke-width="1.5"/>
<text x="663.94" y="549.7" font-size="8.8" text-anchor="middle" >WB16</text>
<text transform="translate(548.5,567.6) scale(0.93,1)" font-size="12" text-anchor="middle" class="b">Strains</text>
<text transform="translate(387.9,426) rotate(-90)" font-size="11.5" text-anchor="middle" class="b">RNA content (mg/g DCW)</text>
<text x="368.6" y="308.8" font-size="23" text-anchor="start" >d</text>
</svg></body></html>
